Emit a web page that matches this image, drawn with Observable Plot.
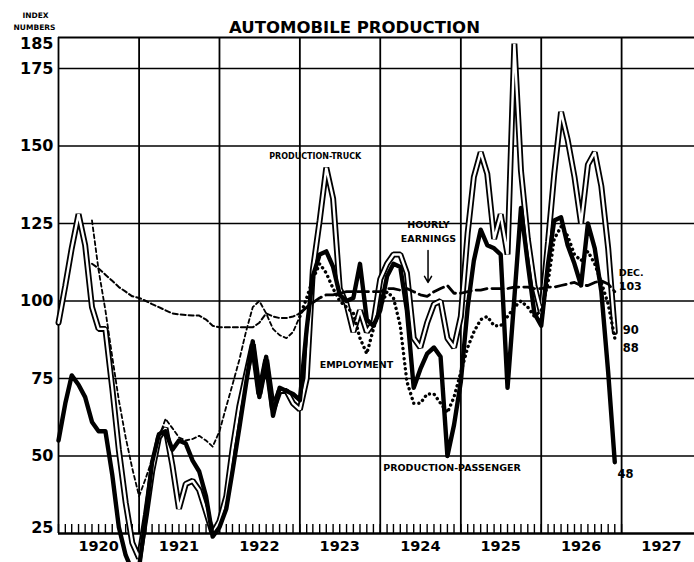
<!DOCTYPE html>
<html><head><meta charset="utf-8">
<script src="https://cdn.jsdelivr.net/npm/d3@7"></script>
<script src="https://cdn.jsdelivr.net/npm/@observablehq/plot@0.6"></script>
<style>
html,body{margin:0;padding:0;background:#fff;}
#chart svg{display:block;}
</style></head><body><div id="chart"></div>
<script>
// Monthly index numbers, Jan 1920 – Dec 1926
const passenger = [
  55, 67, 76, 73, 69, 61, 58, 58, 44, 27, 18, 13,
  14, 31, 48, 57, 58, 52, 55, 54, 48.5, 45, 37, 24,
  27, 33, 45, 59, 73, 87, 69, 82, 63, 72, 71, 70,
  68, 91, 108, 115, 116, 111, 102, 100, 101, 112, 94, 92,
  97, 108, 112, 111, 97, 72, 78, 83, 85, 82, 50, 60,
  74, 98, 113, 123, 118, 117, 115, 72, 101, 130, 112, 96,
  92, 112, 126, 127, 118, 112, 105, 125, 117, 103, 77, 48
];
const truck = [
  93, 105, 117, 128, 118, 98, 91, 91, 72, 52, 35, 22,
  17, 31, 45, 56, 59, 47, 33, 41, 42, 39, 32, 25,
  29, 37, 52, 66, 76, 86, 70, 81, 65, 71, 71, 67,
  65, 75, 110, 126, 143, 133, 104, 99, 90, 97, 90, 93,
  107, 112, 115, 115, 109, 88, 85, 93, 99, 100, 88, 85,
  95, 122, 140, 148, 141, 120, 128, 115, 183, 142, 120, 105,
  96, 119, 141, 161, 152, 140, 125, 144, 148, 137, 117, 90
];
// Jun 1920 – Dec 1926
const employment = [
  126, 110, 97, 82, 68, 56, 46,
  37, 43, 49, 56, 62, 59, 56, 55, 55.5, 56.5, 55, 53,
  58, 66, 73, 81, 90, 98, 100, 96, 91, 89, 88, 90,
  95, 101, 107, 112, 109, 104, 100, 98, 96, 88, 83, 91,
  98, 103, 101, 92, 74, 67, 67, 70, 70, 67, 64, 69,
  77, 85, 90, 94, 95, 92, 92, 95, 98, 100, 98, 95,
  97, 106, 120, 124, 121, 115, 113, 116, 112, 106, 99, 88
];
const earnings = [
  112, 110.5, 108.5, 106.5, 104.5, 103, 101.5,
  101, 100, 99, 98, 97, 96, 95.7, 95.5, 95.3, 95.3, 94, 92,
  91.5, 91.5, 91.5, 91.5, 91.5, 91.5, 93, 96, 95, 94.5, 94.5, 95,
  96, 98, 99.5, 101, 102, 102, 102.5, 103, 103, 103, 103, 103,
  103, 104, 104, 103.5, 104, 103, 102, 101.5, 103, 104, 105, 102.5,
  102.5, 103, 103.5, 103.5, 104, 104, 104, 104, 104.5, 104.5, 104.5, 104,
  104, 104.5, 104.5, 105, 105.5, 106, 105, 105, 106, 106.5, 105.5, 103
];
const yTickValues = [25, 50, 75, 100, 125, 150, 175, 185];
const yearLabels = ["1920","1921","1922","1923","1924","1925","1926","1927"];

const month = i => new Date(Date.UTC(1920, i, 1));
const prodRows = passenger.map((v, i) => ({date: month(i), passenger: v, truck: truck[i]}));
const empRows = employment.map((v, i) => ({date: month(i + 5), value: v}));
const earnRows = earnings.map((v, i) => ({date: month(i + 5), value: v}));
const split = Date.UTC(1923, 0, 1);
const early = rows => rows.filter(d => +d.date <= split);
const late = rows => rows.filter(d => +d.date >= split);
const yearStarts = yearLabels.map(y => new Date(Date.UTC(+y, 0, 1)));
const monthTicks = d3.utcMonths(new Date(Date.UTC(1920, 0, 1)), new Date(Date.UTC(1927, 0, 2)));
const D = (y, m, d) => new Date(Date.UTC(y, m, d));
const F = "DejaVu Sans";

const chart = Plot.plot({
  width: 694, height: 562,
  marginLeft: 58, marginRight: 0, marginTop: 37, marginBottom: 29,
  x: {type: "utc", domain: [D(1920,0,1), D(1927,10,28)], axis: null},
  y: {domain: [25, 185], axis: null},
  style: {fontFamily: F, background: "white", color: "black"},
  marks: [
    Plot.ruleY([50, 75, 100, 125, 150, 175], {stroke: "black", strokeWidth: 1.6}),
    Plot.ruleY([185], {stroke: "black", strokeWidth: 2}),
    Plot.ruleX(yearStarts, {y1: 25, y2: 185, stroke: "black", strokeWidth: 1.8}),
    Plot.ruleX(monthTicks, {y1: 25, y2: 27.9, stroke: "black", strokeWidth: 1.4}),
    Plot.ruleY([25], {stroke: "black", strokeWidth: 2.6}),
    // truck: double line
    Plot.line(prodRows, {x: "date", y: "truck", stroke: "black", strokeWidth: 6, strokeLinejoin: "miter"}),
    Plot.line(prodRows, {x: "date", y: "truck", stroke: "white", strokeWidth: 2.4, strokeLinejoin: "miter"}),
    // hourly earnings
    Plot.line(early(earnRows), {x: "date", y: "value", stroke: "black", strokeWidth: 2, strokeDasharray: "5,3"}),
    Plot.line(late(earnRows), {x: "date", y: "value", stroke: "black", strokeWidth: 2.8, strokeDasharray: "11,5"}),
    // employment
    Plot.line(early(empRows), {x: "date", y: "value", stroke: "black", strokeWidth: 1.8, strokeDasharray: "4,3"}),
    Plot.line(late(empRows), {x: "date", y: "value", stroke: "black", strokeWidth: 3.4, strokeDasharray: "0.1,5", strokeLinecap: "round"}),
    // passenger
    Plot.line(prodRows, {x: "date", y: "passenger", stroke: "black", strokeWidth: 4.4, strokeLinejoin: "round"}),
    // y tick labels
    Plot.text(yTickValues.filter(v => v !== 25 && v !== 185), {y: d => d, text: d => String(d), frameAnchor: "left", lineAnchor: "middle", dx: -5, textAnchor: "end", fontSize: 16, fontWeight: "bold"}),
    Plot.text(yTickValues.filter(v => v === 185), {y: d => d, text: d => String(d), frameAnchor: "left", lineAnchor: "middle", dx: -5, dy: 6, textAnchor: "end", fontSize: 16, fontWeight: "bold"}),
    Plot.text(yTickValues.filter(v => v === 25), {y: d => d, text: d => String(d), frameAnchor: "left", lineAnchor: "middle", dx: -5, dy: -6, textAnchor: "end", fontSize: 16, fontWeight: "bold"}),
    // year labels
    Plot.text(yearLabels, {x: d => D(+d, 6, 1), text: d => d, frameAnchor: "bottom", lineAnchor: "middle", dy: 13, fontSize: 14.5, fontWeight: "bold"}),
    // title & axis caption
    Plot.text(["AUTOMOBILE PRODUCTION"], {frameAnchor: "top", lineAnchor: "middle", dx: -22, dy: -10, fontSize: 16.5, fontWeight: "bold"}),
    Plot.text(["INDEX"], {frameAnchor: "top-left", lineAnchor: "middle", textAnchor: "middle", dx: -23, dy: -22, fontSize: 7.5, fontWeight: "bold"}),
    Plot.text(["NUMBERS"], {frameAnchor: "top-left", lineAnchor: "middle", textAnchor: "middle", dx: -24, dy: -10, fontSize: 7.5, fontWeight: "bold"}),
    // series annotations
    Plot.text(["PRODUCTION-TRUCK"], {x: () => D(1923,2,12), y: () => 146.6, fontSize: 8, fontWeight: "bold"}),
    Plot.text(["HOURLY"], {x: () => D(1924,7,7), y: () => 124.5, fontSize: 9.5, fontWeight: "bold"}),
    Plot.text(["EARNINGS"], {x: () => D(1924,7,7), y: () => 120, fontSize: 9.5, fontWeight: "bold"}),
    Plot.arrow([0], {x1: () => D(1924,7,5), y1: () => 116.3, x2: () => D(1924,7,5), y2: () => 106, stroke: "black", strokeWidth: 1.5, headLength: 7}),
    Plot.text(["EMPLOYMENT"], {x: () => D(1923,8,15), y: () => 79.5, fontSize: 9.5, fontWeight: "bold"}),
    Plot.text(["PRODUCTION-PASSENGER"], {x: () => D(1924,10,22), y: () => 46, fontSize: 9.5, fontWeight: "bold"}),
    Plot.text(["DEC."], {x: () => D(1926,11,19), y: () => 109, textAnchor: "start", fontSize: 9.5, fontWeight: "bold"}),
    Plot.text(["103"], {x: () => D(1926,11,19), y: () => 104.8, textAnchor: "start", fontSize: 11, fontWeight: "bold"}),
    Plot.text(["90"], {x: () => D(1927,0,6), y: () => 90.5, textAnchor: "start", fontSize: 11.5, fontWeight: "bold"}),
    Plot.text(["88"], {x: () => D(1927,0,6), y: () => 84.7, textAnchor: "start", fontSize: 11.5, fontWeight: "bold"}),
    Plot.text(["48"], {x: () => D(1926,11,13), y: () => 44, textAnchor: "start", fontSize: 11.5, fontWeight: "bold"})
  ]
});
document.getElementById("chart").appendChild(chart);
</script>
</body></html>
